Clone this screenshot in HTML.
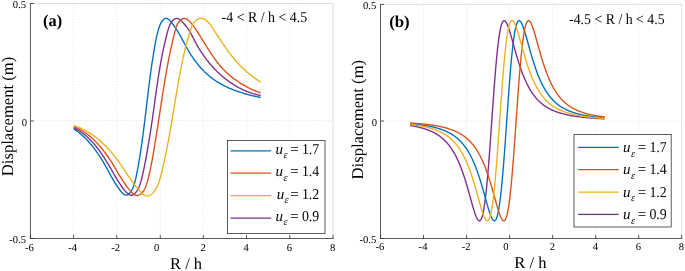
<!DOCTYPE html>
<html lang="en"><head><meta charset="utf-8"><title>Displacement vs R / h</title><style>
html,body{margin:0;padding:0;background:#fff}
svg{will-change:transform}
svg text{font-family:"Liberation Serif","Times New Roman",serif;fill:#000;text-rendering:geometricPrecision}
.g{stroke:#e0e0e0;stroke-width:1;stroke-dasharray:1 2.1;fill:none}
.g2{stroke:#d6d6d6;stroke-width:1;stroke-dasharray:1.3 0.3;fill:none}
.a{stroke:#262626;stroke-width:0.75;fill:none}
.c{fill:none;stroke-width:1.38;stroke-linejoin:round;stroke-linecap:butt}
.t{font-size:10.6px}
.lg{font-size:15px}
.pl{font-size:16.5px;font-weight:bold}
.ti{font-size:15px}
.xl{font-size:16.5px}
</style></head><body>
<svg width="685" height="271" viewBox="0 0 685 271" style="display:block">
<rect width="685" height="271" fill="#fff"/>
<line x1="73.55" y1="3.5" x2="73.55" y2="238.5" class="g"/>
<line x1="116.75" y1="3.5" x2="116.75" y2="238.5" class="g"/>
<line x1="160.30" y1="3.5" x2="160.30" y2="238.5" class="g"/>
<line x1="203.40" y1="3.5" x2="203.40" y2="238.5" class="g"/>
<line x1="246.50" y1="3.5" x2="246.50" y2="238.5" class="g"/>
<line x1="289.75" y1="3.5" x2="289.75" y2="238.5" class="g"/>
<line x1="333.00" y1="3.5" x2="333.00" y2="238.5" class="g2"/>
<line x1="30.45" y1="120.6" x2="333.0" y2="120.6" class="g"/>
<line x1="30.45" y1="3.5" x2="333.0" y2="3.5" class="g2"/>
<line x1="423.53" y1="4.4" x2="423.53" y2="238.5" class="g"/>
<line x1="466.56" y1="4.4" x2="466.56" y2="238.5" class="g"/>
<line x1="509.59" y1="4.4" x2="509.59" y2="238.5" class="g"/>
<line x1="552.62" y1="4.4" x2="552.62" y2="238.5" class="g"/>
<line x1="595.65" y1="4.4" x2="595.65" y2="238.5" class="g"/>
<line x1="638.68" y1="4.4" x2="638.68" y2="238.5" class="g"/>
<line x1="681.71" y1="4.4" x2="681.71" y2="238.5" class="g2"/>
<line x1="380.5" y1="121" x2="681.71" y2="121" class="g"/>
<line x1="380.5" y1="4.4" x2="681.71" y2="4.4" class="g2"/>
<path d="M73.70 128.80 L75.00 129.68 L76.28 130.59 L77.54 131.52 L78.77 132.47 L79.98 133.44 L81.16 134.44 L82.32 135.45 L83.46 136.49 L84.58 137.55 L85.68 138.62 L86.76 139.72 L87.81 140.83 L88.85 141.96 L89.87 143.11 L90.87 144.27 L91.85 145.45 L92.81 146.64 L93.76 147.85 L94.69 149.08 L95.60 150.31 L96.50 151.56 L97.39 152.82 L98.26 154.09 L99.11 155.38 L99.95 156.67 L100.78 157.98 L101.60 159.29 L102.40 160.61 L103.20 161.94 L103.98 163.28 L104.75 164.62 L105.52 165.97 L106.27 167.32 L107.02 168.68 L107.76 170.04 L108.50 171.40 L109.24 172.76 L109.98 174.11 L110.72 175.46 L111.46 176.80 L112.21 178.13 L112.97 179.46 L113.74 180.77 L114.52 182.07 L115.31 183.35 L116.13 184.62 L116.97 185.90 L117.86 187.19 L118.79 188.50 L119.78 189.84 L120.84 191.23 L121.97 192.57 L123.14 193.76 L124.35 194.67 L125.58 195.17 L126.82 195.15 L128.05 194.60 L129.23 193.64 L130.34 192.39 L131.33 190.97 L132.19 189.49 L132.91 188.00 L133.51 186.51 L134.02 185.02 L134.46 183.54 L134.86 182.04 L135.24 180.55 L135.60 179.06 L135.94 177.56 L136.27 176.07 L136.59 174.57 L136.89 173.07 L137.18 171.57 L137.47 170.07 L137.75 168.56 L138.03 167.05 L138.30 165.54 L138.57 164.03 L138.83 162.51 L139.09 160.99 L139.35 159.47 L139.60 157.96 L139.84 156.43 L140.09 154.91 L140.33 153.39 L140.57 151.86 L140.80 150.34 L141.03 148.81 L141.26 147.29 L141.48 145.76 L141.70 144.23 L141.92 142.70 L142.13 141.17 L142.34 139.64 L142.55 138.11 L142.76 136.58 L142.96 135.05 L143.16 133.52 L143.36 131.99 L143.56 130.46 L143.76 128.93 L143.95 127.39 L144.14 125.86 L144.33 124.33 L144.52 122.79 L144.71 121.26 L144.90 119.72 L145.09 118.19 L145.27 116.66 L145.45 115.12 L145.64 113.59 L145.82 112.05 L146.00 110.52 L146.18 108.98 L146.37 107.45 L146.55 105.91 L146.73 104.38 L146.91 102.85 L147.09 101.31 L147.27 99.78 L147.45 98.24 L147.64 96.71 L147.82 95.18 L148.00 93.64 L148.19 92.11 L148.38 90.58 L148.56 89.05 L148.75 87.52 L148.94 85.99 L149.13 84.45 L149.33 82.92 L149.52 81.40 L149.72 79.87 L149.91 78.34 L150.11 76.81 L150.32 75.28 L150.52 73.76 L150.73 72.23 L150.94 70.71 L151.15 69.18 L151.37 67.66 L151.58 66.14 L151.80 64.61 L152.03 63.09 L152.25 61.57 L152.49 60.05 L152.72 58.53 L152.96 57.02 L153.20 55.50 L153.44 53.99 L153.69 52.47 L153.94 50.96 L154.20 49.45 L154.46 47.94 L154.73 46.43 L155.00 44.92 L155.27 43.41 L155.55 41.90 L155.84 40.40 L156.14 38.89 L156.46 37.39 L156.79 35.88 L157.14 34.38 L157.51 32.87 L157.90 31.36 L158.33 29.85 L158.78 28.34 L159.28 26.83 L159.84 25.33 L160.51 23.85 L161.32 22.40 L162.28 21.00 L163.37 19.76 L164.55 18.83 L165.77 18.35 L166.99 18.43 L168.19 19.03 L169.36 20.02 L170.49 21.24 L171.58 22.57 L172.61 23.90 L173.59 25.22 L174.53 26.53 L175.42 27.83 L176.28 29.12 L177.10 30.42 L177.90 31.71 L178.68 33.01 L179.43 34.31 L180.17 35.61 L180.90 36.93 L181.62 38.25 L182.34 39.59 L183.07 40.95 L183.80 42.32 L184.53 43.70 L185.28 45.08 L186.03 46.47 L186.79 47.85 L187.57 49.23 L188.36 50.59 L189.16 51.94 L189.98 53.27 L190.81 54.60 L191.66 55.90 L192.52 57.20 L193.40 58.47 L194.29 59.73 L195.20 60.98 L196.12 62.21 L197.06 63.42 L198.02 64.61 L199.00 65.79 L199.99 66.94 L201.00 68.08 L202.03 69.20 L203.08 70.30 L204.14 71.38 L205.23 72.44 L206.34 73.48 L207.46 74.49 L208.61 75.49 L209.77 76.46 L210.96 77.41 L212.17 78.33 L213.40 79.24 L214.65 80.12 L215.93 80.97 L217.22 81.80 L218.53 82.61 L219.87 83.39 L221.21 84.15 L222.58 84.89 L223.96 85.61 L225.36 86.31 L226.77 86.98 L228.19 87.64 L229.62 88.27 L231.07 88.89 L232.52 89.48 L233.99 90.05 L235.46 90.61 L236.93 91.15 L238.42 91.67 L239.90 92.17 L241.40 92.65 L242.89 93.12 L244.39 93.57 L245.88 94.00 L247.38 94.42 L248.88 94.82 L250.37 95.21 L251.86 95.58 L253.35 95.93 L254.83 96.28 L256.31 96.60 L257.78 96.92 L259.24 97.22 L260.69 97.51" class="c" stroke="#0072BD"/>
<path d="M73.70 127.60 L75.09 128.34 L76.46 129.10 L77.79 129.90 L79.10 130.73 L80.38 131.58 L81.64 132.46 L82.87 133.37 L84.07 134.31 L85.25 135.27 L86.40 136.25 L87.53 137.26 L88.64 138.29 L89.73 139.34 L90.80 140.41 L91.84 141.50 L92.87 142.61 L93.87 143.74 L94.86 144.89 L95.83 146.06 L96.78 147.24 L97.72 148.43 L98.64 149.64 L99.54 150.87 L100.43 152.10 L101.31 153.35 L102.17 154.61 L103.02 155.88 L103.86 157.16 L104.69 158.44 L105.50 159.74 L106.31 161.04 L107.11 162.35 L107.89 163.66 L108.67 164.97 L109.45 166.30 L110.21 167.62 L110.98 168.94 L111.74 170.27 L112.49 171.59 L113.25 172.91 L114.01 174.23 L114.77 175.54 L115.54 176.84 L116.31 178.14 L117.09 179.43 L117.88 180.71 L118.68 181.98 L119.48 183.24 L120.31 184.49 L121.17 185.74 L122.06 186.99 L123.00 188.25 L124.01 189.53 L125.08 190.84 L126.22 192.13 L127.41 193.31 L128.64 194.28 L129.90 194.95 L131.18 195.23 L132.44 195.03 L133.68 194.40 L134.87 193.43 L135.98 192.21 L136.99 190.85 L137.87 189.42 L138.62 187.98 L139.26 186.53 L139.82 185.07 L140.30 183.61 L140.75 182.15 L141.15 180.69 L141.54 179.23 L141.90 177.77 L142.24 176.32 L142.58 174.85 L142.90 173.39 L143.22 171.92 L143.54 170.44 L143.85 168.95 L144.16 167.47 L144.47 165.98 L144.77 164.48 L145.06 162.99 L145.36 161.49 L145.64 159.99 L145.93 158.48 L146.21 156.98 L146.49 155.47 L146.76 153.97 L147.03 152.47 L147.30 150.96 L147.57 149.46 L147.83 147.95 L148.09 146.45 L148.34 144.94 L148.59 143.43 L148.84 141.93 L149.09 140.42 L149.33 138.91 L149.58 137.41 L149.81 135.90 L150.05 134.39 L150.29 132.89 L150.52 131.38 L150.75 129.87 L150.98 128.36 L151.20 126.86 L151.43 125.35 L151.65 123.84 L151.87 122.33 L152.09 120.83 L152.31 119.32 L152.53 117.81 L152.74 116.30 L152.96 114.80 L153.17 113.29 L153.39 111.78 L153.60 110.27 L153.81 108.77 L154.02 107.26 L154.23 105.75 L154.44 104.25 L154.65 102.74 L154.86 101.23 L155.07 99.73 L155.28 98.22 L155.49 96.72 L155.70 95.21 L155.91 93.71 L156.12 92.20 L156.33 90.70 L156.55 89.19 L156.76 87.69 L156.98 86.19 L157.20 84.68 L157.42 83.18 L157.65 81.68 L157.87 80.18 L158.10 78.68 L158.33 77.18 L158.57 75.67 L158.80 74.17 L159.04 72.67 L159.29 71.17 L159.54 69.68 L159.79 68.18 L160.04 66.68 L160.30 65.18 L160.57 63.68 L160.83 62.19 L161.11 60.69 L161.39 59.20 L161.67 57.70 L161.96 56.21 L162.25 54.71 L162.55 53.22 L162.85 51.73 L163.16 50.23 L163.48 48.74 L163.80 47.25 L164.13 45.76 L164.47 44.27 L164.81 42.78 L165.16 41.30 L165.52 39.81 L165.88 38.32 L166.26 36.83 L166.64 35.35 L167.02 33.86 L167.42 32.38 L167.82 30.90 L168.24 29.42 L168.70 27.94 L169.21 26.48 L169.82 25.05 L170.54 23.64 L171.40 22.26 L172.42 20.95 L173.56 19.80 L174.79 18.91 L176.06 18.39 L177.34 18.35 L178.60 18.79 L179.84 19.60 L181.05 20.67 L182.23 21.87 L183.36 23.09 L184.45 24.30 L185.48 25.49 L186.47 26.69 L187.41 27.90 L188.29 29.14 L189.12 30.40 L189.91 31.70 L190.66 33.01 L191.38 34.34 L192.08 35.69 L192.77 37.04 L193.46 38.40 L194.15 39.75 L194.84 41.11 L195.56 42.45 L196.29 43.79 L197.03 45.12 L197.79 46.45 L198.57 47.76 L199.36 49.07 L200.16 50.36 L200.98 51.65 L201.82 52.93 L202.67 54.19 L203.54 55.45 L204.42 56.69 L205.32 57.93 L206.23 59.15 L207.16 60.36 L208.10 61.55 L209.06 62.74 L210.03 63.90 L211.02 65.06 L212.02 66.20 L213.04 67.33 L214.07 68.44 L215.12 69.54 L216.18 70.62 L217.26 71.69 L218.35 72.74 L219.45 73.77 L220.57 74.79 L221.71 75.79 L222.85 76.77 L224.02 77.74 L225.20 78.68 L226.39 79.61 L227.59 80.51 L228.81 81.40 L230.05 82.27 L231.30 83.12 L232.56 83.94 L233.84 84.75 L235.13 85.54 L236.43 86.30 L237.75 87.04 L239.08 87.76 L240.43 88.45 L241.79 89.13 L243.17 89.77 L244.55 90.40 L245.96 91.00 L247.37 91.58 L248.80 92.13 L250.24 92.65 L251.70 93.15 L253.17 93.63 L254.65 94.07 L256.15 94.49 L257.66 94.89 L259.18 95.25 L260.72 95.59" class="c" stroke="#7E2F8E"/>
<path d="M73.70 126.60 L75.12 127.18 L76.52 127.80 L77.89 128.46 L79.24 129.15 L80.57 129.87 L81.88 130.63 L83.17 131.43 L84.44 132.25 L85.69 133.11 L86.92 133.99 L88.13 134.91 L89.32 135.85 L90.49 136.81 L91.64 137.81 L92.77 138.82 L93.88 139.86 L94.98 140.92 L96.05 142.01 L97.11 143.11 L98.15 144.23 L99.18 145.37 L100.19 146.53 L101.18 147.70 L102.15 148.88 L103.11 150.08 L104.05 151.30 L104.97 152.52 L105.88 153.75 L106.78 154.99 L107.66 156.24 L108.52 157.50 L109.37 158.77 L110.20 160.03 L111.03 161.31 L111.83 162.58 L112.63 163.86 L113.41 165.14 L114.17 166.41 L114.93 167.69 L115.68 168.96 L116.43 170.24 L117.17 171.52 L117.92 172.79 L118.67 174.07 L119.42 175.34 L120.19 176.61 L120.97 177.89 L121.77 179.16 L122.58 180.43 L123.42 181.70 L124.28 182.98 L125.17 184.25 L126.08 185.52 L127.03 186.79 L128.02 188.06 L129.05 189.33 L130.12 190.60 L131.23 191.85 L132.38 193.03 L133.57 194.05 L134.79 194.85 L136.03 195.35 L137.31 195.49 L138.60 195.22 L139.87 194.60 L141.11 193.69 L142.26 192.55 L143.32 191.27 L144.24 189.90 L145.01 188.48 L145.65 187.05 L146.20 185.59 L146.68 184.11 L147.12 182.63 L147.53 181.15 L147.93 179.68 L148.31 178.20 L148.68 176.73 L149.04 175.25 L149.38 173.78 L149.71 172.31 L150.04 170.84 L150.35 169.36 L150.65 167.89 L150.95 166.42 L151.24 164.94 L151.52 163.47 L151.80 162.00 L152.07 160.52 L152.34 159.04 L152.60 157.56 L152.87 156.08 L153.13 154.59 L153.38 153.11 L153.64 151.62 L153.89 150.13 L154.15 148.64 L154.40 147.15 L154.64 145.65 L154.89 144.16 L155.14 142.66 L155.38 141.16 L155.62 139.66 L155.86 138.16 L156.10 136.66 L156.34 135.16 L156.58 133.66 L156.81 132.15 L157.05 130.65 L157.28 129.15 L157.52 127.64 L157.75 126.14 L157.98 124.63 L158.21 123.13 L158.44 121.62 L158.67 120.12 L158.90 118.62 L159.13 117.11 L159.36 115.61 L159.59 114.11 L159.82 112.61 L160.04 111.11 L160.27 109.61 L160.50 108.11 L160.73 106.61 L160.96 105.11 L161.18 103.62 L161.41 102.13 L161.64 100.63 L161.87 99.14 L162.10 97.65 L162.34 96.16 L162.57 94.67 L162.80 93.18 L163.04 91.70 L163.27 90.21 L163.51 88.73 L163.75 87.24 L163.99 85.76 L164.23 84.27 L164.48 82.79 L164.72 81.31 L164.97 79.83 L165.22 78.35 L165.47 76.87 L165.73 75.38 L165.99 73.90 L166.25 72.42 L166.51 70.94 L166.78 69.46 L167.05 67.98 L167.32 66.50 L167.59 65.02 L167.87 63.54 L168.16 62.06 L168.44 60.58 L168.73 59.10 L169.02 57.62 L169.32 56.14 L169.62 54.65 L169.93 53.17 L170.24 51.69 L170.55 50.20 L170.87 48.72 L171.19 47.23 L171.52 45.75 L171.85 44.26 L172.19 42.78 L172.53 41.29 L172.88 39.80 L173.23 38.31 L173.59 36.82 L173.95 35.32 L174.32 33.83 L174.70 32.34 L175.08 30.84 L175.47 29.34 L175.90 27.86 L176.40 26.40 L176.99 24.96 L177.70 23.57 L178.57 22.23 L179.60 20.97 L180.76 19.87 L182.01 19.00 L183.32 18.46 L184.63 18.34 L185.92 18.66 L187.18 19.35 L188.40 20.31 L189.57 21.44 L190.68 22.65 L191.73 23.87 L192.72 25.10 L193.67 26.33 L194.58 27.56 L195.46 28.81 L196.31 30.06 L197.14 31.31 L197.96 32.58 L198.77 33.85 L199.58 35.12 L200.38 36.40 L201.18 37.69 L201.97 38.98 L202.77 40.27 L203.56 41.57 L204.35 42.86 L205.14 44.16 L205.94 45.45 L206.74 46.74 L207.54 48.03 L208.35 49.32 L209.16 50.60 L209.98 51.88 L210.81 53.15 L211.65 54.41 L212.49 55.66 L213.35 56.91 L214.22 58.15 L215.10 59.37 L216.00 60.59 L216.91 61.79 L217.84 62.98 L218.78 64.15 L219.74 65.31 L220.72 66.45 L221.72 67.58 L222.74 68.69 L223.78 69.78 L224.85 70.85 L225.93 71.91 L227.03 72.94 L228.15 73.96 L229.29 74.96 L230.44 75.93 L231.62 76.89 L232.80 77.84 L234.01 78.76 L235.23 79.66 L236.47 80.54 L237.72 81.40 L238.98 82.24 L240.26 83.07 L241.55 83.87 L242.85 84.65 L244.17 85.41 L245.50 86.15 L246.84 86.87 L248.18 87.57 L249.54 88.25 L250.91 88.91 L252.29 89.54 L253.67 90.16 L255.06 90.75 L256.46 91.32 L257.87 91.87 L259.28 92.40 L260.70 92.90" class="c" stroke="#D95319"/>
<path d="M73.70 125.60 L75.12 126.04 L76.52 126.52 L77.91 127.02 L79.28 127.57 L80.64 128.14 L81.99 128.75 L83.32 129.39 L84.63 130.06 L85.94 130.76 L87.22 131.48 L88.50 132.24 L89.76 133.02 L91.00 133.83 L92.23 134.66 L93.45 135.52 L94.65 136.40 L95.83 137.30 L97.01 138.23 L98.17 139.17 L99.31 140.14 L100.44 141.13 L101.56 142.13 L102.66 143.15 L103.75 144.19 L104.82 145.24 L105.88 146.31 L106.92 147.40 L107.95 148.49 L108.97 149.60 L109.97 150.73 L110.96 151.86 L111.94 153.00 L112.90 154.15 L113.84 155.31 L114.78 156.48 L115.69 157.65 L116.60 158.83 L117.49 160.01 L118.36 161.20 L119.22 162.39 L120.07 163.59 L120.91 164.78 L121.73 165.98 L122.53 167.17 L123.33 168.37 L124.12 169.57 L124.91 170.77 L125.69 171.97 L126.48 173.17 L127.27 174.37 L128.06 175.57 L128.86 176.77 L129.68 177.98 L130.51 179.18 L131.35 180.39 L132.21 181.60 L133.10 182.81 L134.01 184.02 L134.94 185.24 L135.91 186.45 L136.91 187.67 L137.94 188.89 L139.01 190.11 L140.12 191.34 L141.26 192.52 L142.44 193.63 L143.64 194.59 L144.86 195.36 L146.09 195.88 L147.33 196.11 L148.56 195.99 L149.79 195.52 L150.98 194.77 L152.14 193.78 L153.23 192.63 L154.25 191.36 L155.17 190.03 L156.00 188.68 L156.73 187.32 L157.39 185.95 L157.99 184.57 L158.53 183.18 L159.03 181.78 L159.50 180.38 L159.95 178.97 L160.36 177.55 L160.76 176.13 L161.13 174.70 L161.49 173.28 L161.84 171.85 L162.18 170.41 L162.52 168.98 L162.85 167.54 L163.18 166.11 L163.50 164.67 L163.82 163.23 L164.14 161.79 L164.45 160.35 L164.76 158.91 L165.06 157.46 L165.36 156.02 L165.66 154.58 L165.96 153.13 L166.25 151.69 L166.54 150.24 L166.83 148.79 L167.11 147.34 L167.39 145.89 L167.67 144.44 L167.95 142.99 L168.22 141.54 L168.49 140.09 L168.76 138.63 L169.03 137.18 L169.29 135.72 L169.55 134.27 L169.81 132.81 L170.07 131.35 L170.33 129.90 L170.58 128.44 L170.83 126.98 L171.08 125.52 L171.33 124.06 L171.58 122.60 L171.83 121.14 L172.07 119.68 L172.32 118.22 L172.56 116.76 L172.80 115.30 L173.05 113.83 L173.29 112.37 L173.53 110.91 L173.77 109.45 L174.01 107.98 L174.25 106.52 L174.49 105.06 L174.73 103.59 L174.97 102.13 L175.21 100.67 L175.45 99.21 L175.70 97.74 L175.94 96.28 L176.18 94.82 L176.43 93.36 L176.68 91.90 L176.92 90.43 L177.17 88.97 L177.43 87.51 L177.68 86.06 L177.93 84.60 L178.19 83.14 L178.45 81.68 L178.71 80.22 L178.97 78.77 L179.24 77.31 L179.51 75.86 L179.78 74.40 L180.06 72.95 L180.33 71.50 L180.62 70.05 L180.90 68.60 L181.19 67.15 L181.48 65.70 L181.78 64.26 L182.08 62.81 L182.38 61.37 L182.69 59.93 L183.00 58.48 L183.31 57.04 L183.64 55.61 L183.96 54.17 L184.29 52.73 L184.63 51.30 L184.97 49.87 L185.31 48.44 L185.66 47.01 L186.02 45.58 L186.38 44.16 L186.75 42.73 L187.12 41.31 L187.50 39.89 L187.89 38.48 L188.29 37.06 L188.69 35.64 L189.12 34.23 L189.56 32.81 L190.02 31.39 L190.50 29.97 L191.00 28.55 L191.54 27.13 L192.14 25.73 L192.82 24.37 L193.62 23.06 L194.56 21.83 L195.64 20.71 L196.83 19.75 L198.11 18.99 L199.45 18.48 L200.82 18.27 L202.19 18.39 L203.54 18.81 L204.87 19.48 L206.14 20.35 L207.34 21.37 L208.46 22.48 L209.49 23.66 L210.44 24.87 L211.32 26.10 L212.17 27.36 L212.98 28.61 L213.79 29.86 L214.60 31.10 L215.41 32.33 L216.21 33.56 L217.02 34.78 L217.82 36.00 L218.63 37.21 L219.44 38.43 L220.25 39.64 L221.07 40.86 L221.89 42.08 L222.71 43.30 L223.54 44.52 L224.37 45.74 L225.22 46.96 L226.06 48.17 L226.92 49.38 L227.79 50.59 L228.66 51.79 L229.54 52.98 L230.44 54.17 L231.34 55.34 L232.26 56.51 L233.19 57.66 L234.13 58.81 L235.09 59.94 L236.05 61.06 L237.03 62.17 L238.03 63.27 L239.03 64.35 L240.05 65.42 L241.08 66.48 L242.13 67.52 L243.19 68.55 L244.26 69.56 L245.35 70.56 L246.45 71.55 L247.56 72.52 L248.68 73.47 L249.82 74.41 L250.98 75.33 L252.14 76.24 L253.32 77.13 L254.52 78.00 L255.73 78.86 L256.95 79.69 L258.19 80.51 L259.44 81.32 L260.70 82.10" class="c" stroke="#EDB120"/>
<path d="M410.10 123.70 L410.59 123.75 L411.08 123.79 L411.56 123.83 L412.05 123.88 L412.54 123.93 L413.03 123.97 L413.52 124.02 L414.01 124.07 L414.49 124.12 L414.98 124.17 L415.47 124.22 L415.96 124.28 L416.45 124.33 L416.94 124.39 L417.42 124.44 L417.91 124.50 L418.40 124.56 L418.89 124.62 L419.38 124.68 L419.86 124.74 L420.35 124.80 L420.84 124.87 L421.33 124.94 L421.82 125.00 L422.31 125.07 L422.79 125.14 L423.28 125.21 L423.77 125.29 L424.26 125.36 L424.75 125.44 L425.23 125.52 L425.72 125.60 L426.21 125.68 L426.70 125.76 L427.19 125.85 L427.68 125.94 L428.16 126.03 L428.65 126.12 L429.14 126.21 L429.63 126.31 L430.12 126.40 L430.61 126.50 L431.09 126.61 L431.58 126.71 L432.07 126.82 L432.56 126.93 L433.05 127.04 L433.53 127.15 L434.02 127.27 L434.51 127.39 L435.00 127.51 L435.49 127.64 L435.98 127.77 L436.46 127.90 L436.95 128.04 L437.44 128.18 L437.93 128.32 L438.42 128.46 L438.91 128.61 L439.39 128.76 L439.88 128.92 L440.37 129.08 L440.86 129.25 L441.35 129.42 L441.83 129.59 L442.32 129.77 L442.81 129.95 L443.30 130.14 L443.79 130.33 L444.28 130.52 L444.76 130.73 L445.25 130.93 L445.74 131.15 L446.23 131.36 L446.72 131.59 L447.20 131.82 L447.69 132.05 L448.18 132.30 L448.67 132.55 L449.16 132.80 L449.65 133.07 L450.13 133.34 L450.62 133.61 L451.11 133.90 L451.60 134.19 L452.09 134.50 L452.58 134.81 L453.06 135.13 L453.55 135.45 L454.04 135.79 L454.53 136.14 L455.02 136.50 L455.50 136.86 L455.99 137.24 L456.48 137.63 L456.97 138.03 L457.46 138.45 L457.95 138.87 L458.43 139.31 L458.92 139.76 L459.41 140.22 L459.90 140.70 L460.39 141.19 L460.87 141.70 L461.36 142.22 L461.85 142.76 L462.34 143.31 L462.83 143.88 L463.32 144.47 L463.80 145.08 L464.29 145.70 L464.78 146.35 L465.27 147.01 L465.76 147.69 L466.25 148.40 L466.73 149.12 L467.22 149.87 L467.71 150.64 L468.20 151.44 L468.69 152.26 L469.17 153.10 L469.66 153.97 L470.15 154.86 L470.64 155.79 L471.13 156.74 L471.62 157.71 L472.10 158.72 L472.59 159.76 L473.08 160.82 L473.57 161.92 L474.06 163.05 L474.55 164.21 L475.03 165.40 L475.52 166.63 L476.01 167.89 L476.50 169.18 L476.99 170.51 L477.47 171.87 L477.96 173.26 L478.45 174.69 L478.94 176.15 L479.43 177.65 L479.92 179.18 L480.40 180.73 L480.89 182.32 L481.38 183.94 L481.87 185.59 L482.36 187.26 L482.84 188.95 L483.33 190.67 L483.82 192.40 L484.31 194.15 L484.80 195.90 L485.29 197.66 L485.77 199.43 L486.26 201.18 L486.75 202.92 L487.24 204.65 L487.73 206.34 L488.22 208.00 L488.70 209.62 L489.19 211.18 L489.68 212.67 L490.17 214.08 L490.66 215.40 L491.14 216.62 L491.63 217.71 L492.12 218.67 L492.61 219.47 L493.10 220.11 L493.59 220.56 L494.07 220.80 L494.56 220.82 L495.05 220.60 L495.54 220.12 L496.03 219.36 L496.52 218.30 L497.00 216.94 L497.49 215.25 L497.98 213.22 L498.47 210.84 L498.96 208.09 L499.44 204.98 L499.93 201.50 L500.42 197.65 L500.91 193.43 L501.40 188.85 L501.89 183.92 L502.37 178.65 L502.86 173.06 L503.35 167.18 L503.84 161.04 L504.33 154.66 L504.81 148.08 L505.30 141.33 L505.79 134.45 L506.28 127.50 L506.77 120.50 L507.26 113.50 L507.74 106.55 L508.23 99.68 L508.72 92.94 L509.21 86.37 L509.70 80.01 L510.19 73.88 L510.67 68.02 L511.16 62.46 L511.65 57.21 L512.14 52.31 L512.63 47.75 L513.11 43.56 L513.60 39.73 L514.09 36.28 L514.58 33.20 L515.07 30.48 L515.56 28.12 L516.04 26.12 L516.53 24.45 L517.02 23.11 L517.51 22.08 L518.00 21.34 L518.48 20.88 L518.97 20.68 L519.46 20.71 L519.95 20.97 L520.44 21.43 L520.93 22.08 L521.41 22.90 L521.90 23.86 L522.39 24.97 L522.88 26.19 L523.37 27.52 L523.86 28.94 L524.34 30.43 L524.83 32.00 L525.32 33.61 L525.81 35.28 L526.30 36.98 L526.78 38.70 L527.27 40.45 L527.76 42.20 L528.25 43.96 L528.74 45.72 L529.23 47.48 L529.71 49.23 L530.20 50.96 L530.69 52.67 L531.18 54.36 L531.67 56.03 L532.16 57.68 L532.64 59.29 L533.13 60.88 L533.62 62.44 L534.11 63.96 L534.60 65.45 L535.08 66.91 L535.57 68.34 L536.06 69.73 L536.55 71.09 L537.04 72.41 L537.53 73.70 L538.01 74.96 L538.50 76.18 L538.99 77.37 L539.48 78.53 L539.97 79.66 L540.45 80.76 L540.94 81.82 L541.43 82.85 L541.92 83.86 L542.41 84.83 L542.90 85.78 L543.38 86.70 L543.87 87.60 L544.36 88.46 L544.85 89.30 L545.34 90.12 L545.83 90.91 L546.31 91.68 L546.80 92.43 L547.29 93.15 L547.78 93.86 L548.27 94.54 L548.75 95.20 L549.24 95.84 L549.73 96.47 L550.22 97.07 L550.71 97.66 L551.20 98.23 L551.68 98.78 L552.17 99.32 L552.66 99.84 L553.15 100.34 L553.64 100.83 L554.13 101.31 L554.61 101.77 L555.10 102.22 L555.59 102.66 L556.08 103.08 L556.57 103.50 L557.05 103.90 L557.54 104.28 L558.03 104.66 L558.52 105.03 L559.01 105.39 L559.50 105.73 L559.98 106.07 L560.47 106.40 L560.96 106.72 L561.45 107.03 L561.94 107.33 L562.42 107.62 L562.91 107.91 L563.40 108.18 L563.89 108.45 L564.38 108.72 L564.87 108.97 L565.35 109.22 L565.84 109.46 L566.33 109.70 L566.82 109.93 L567.31 110.15 L567.80 110.37 L568.28 110.58 L568.77 110.79 L569.26 110.99 L569.75 111.19 L570.24 111.38 L570.72 111.57 L571.21 111.75 L571.70 111.92 L572.19 112.10 L572.68 112.27 L573.17 112.43 L573.65 112.59 L574.14 112.75 L574.63 112.90 L575.12 113.05 L575.61 113.19 L576.09 113.33 L576.58 113.47 L577.07 113.61 L577.56 113.74 L578.05 113.87 L578.54 113.99 L579.02 114.12 L579.51 114.24 L580.00 114.35 L580.49 114.47 L580.98 114.58 L581.47 114.69 L581.95 114.80 L582.44 114.90 L582.93 115.00 L583.42 115.10 L583.91 115.20 L584.39 115.30 L584.88 115.39 L585.37 115.48 L585.86 115.57 L586.35 115.66 L586.84 115.74 L587.32 115.83 L587.81 115.91 L588.30 115.99 L588.79 116.07 L589.28 116.14 L589.77 116.22 L590.25 116.29 L590.74 116.36 L591.23 116.43 L591.72 116.50 L592.21 116.57 L592.69 116.64 L593.18 116.70 L593.67 116.76 L594.16 116.83 L594.65 116.89 L595.14 116.95 L595.62 117.01 L596.11 117.06 L596.60 117.12 L597.09 117.17 L597.58 117.23 L598.06 117.28 L598.55 117.33 L599.04 117.38 L599.53 117.43 L600.02 117.48 L600.51 117.53 L600.99 117.58 L601.48 117.62 L601.97 117.67 L602.46 117.71 L602.95 117.76 L603.44 117.80 L603.92 117.84 L604.41 117.88 L604.90 117.92" class="c" stroke="#0072BD"/>
<path d="M410.10 125.49 L410.59 125.57 L411.08 125.65 L411.56 125.73 L412.05 125.82 L412.54 125.90 L413.03 125.99 L413.52 126.08 L414.01 126.18 L414.49 126.27 L414.98 126.37 L415.47 126.47 L415.96 126.57 L416.45 126.67 L416.94 126.78 L417.42 126.89 L417.91 127.00 L418.40 127.11 L418.89 127.23 L419.38 127.35 L419.86 127.47 L420.35 127.59 L420.84 127.72 L421.33 127.85 L421.82 127.99 L422.31 128.12 L422.79 128.26 L423.28 128.41 L423.77 128.56 L424.26 128.71 L424.75 128.86 L425.23 129.02 L425.72 129.18 L426.21 129.35 L426.70 129.52 L427.19 129.70 L427.68 129.88 L428.16 130.06 L428.65 130.25 L429.14 130.45 L429.63 130.65 L430.12 130.85 L430.61 131.06 L431.09 131.28 L431.58 131.50 L432.07 131.73 L432.56 131.96 L433.05 132.20 L433.53 132.45 L434.02 132.70 L434.51 132.97 L435.00 133.23 L435.49 133.51 L435.98 133.79 L436.46 134.08 L436.95 134.38 L437.44 134.69 L437.93 135.00 L438.42 135.33 L438.91 135.66 L439.39 136.01 L439.88 136.36 L440.37 136.72 L440.86 137.10 L441.35 137.48 L441.83 137.88 L442.32 138.29 L442.81 138.71 L443.30 139.14 L443.79 139.59 L444.28 140.05 L444.76 140.52 L445.25 141.01 L445.74 141.51 L446.23 142.02 L446.72 142.55 L447.20 143.10 L447.69 143.67 L448.18 144.25 L448.67 144.85 L449.16 145.47 L449.65 146.10 L450.13 146.76 L450.62 147.43 L451.11 148.13 L451.60 148.85 L452.09 149.59 L452.58 150.35 L453.06 151.13 L453.55 151.94 L454.04 152.78 L454.53 153.64 L455.02 154.52 L455.50 155.43 L455.99 156.37 L456.48 157.34 L456.97 158.34 L457.46 159.36 L457.95 160.42 L458.43 161.50 L458.92 162.62 L459.41 163.77 L459.90 164.95 L460.39 166.16 L460.87 167.41 L461.36 168.69 L461.85 170.00 L462.34 171.35 L462.83 172.73 L463.32 174.15 L463.80 175.60 L464.29 177.08 L464.78 178.59 L465.27 180.14 L465.76 181.72 L466.25 183.33 L466.73 184.96 L467.22 186.62 L467.71 188.31 L468.20 190.02 L468.69 191.74 L469.17 193.48 L469.66 195.24 L470.15 197.00 L470.64 198.76 L471.13 200.52 L471.62 202.27 L472.10 204.00 L472.59 205.71 L473.08 207.38 L473.57 209.01 L474.06 210.60 L474.55 212.11 L475.03 213.56 L475.52 214.91 L476.01 216.17 L476.50 217.31 L476.99 218.32 L477.47 219.19 L477.96 219.89 L478.45 220.41 L478.94 220.73 L479.43 220.84 L479.92 220.71 L480.40 220.33 L480.89 219.68 L481.38 218.74 L481.87 217.49 L482.36 215.93 L482.84 214.03 L483.33 211.78 L483.82 209.18 L484.31 206.21 L484.80 202.87 L485.29 199.15 L485.77 195.07 L486.26 190.63 L486.75 185.82 L487.24 180.68 L487.73 175.21 L488.22 169.44 L488.70 163.40 L489.19 157.10 L489.68 150.59 L490.17 143.90 L490.66 137.07 L491.14 130.14 L491.63 123.15 L492.12 116.14 L492.61 109.17 L493.10 102.27 L493.59 95.48 L494.07 88.84 L494.56 82.39 L495.05 76.17 L495.54 70.21 L496.03 64.53 L496.52 59.16 L497.00 54.12 L497.49 49.43 L497.98 45.10 L498.47 41.14 L498.96 37.54 L499.44 34.32 L499.93 31.46 L500.42 28.97 L500.91 26.84 L501.40 25.04 L501.89 23.58 L502.37 22.43 L502.86 21.59 L503.35 21.02 L503.84 20.72 L504.33 20.67 L504.81 20.85 L505.30 21.24 L505.79 21.81 L506.28 22.57 L506.77 23.48 L507.26 24.53 L507.74 25.71 L508.23 27.00 L508.72 28.39 L509.21 29.86 L509.70 31.40 L510.19 33.00 L510.67 34.64 L511.16 36.33 L511.65 38.05 L512.14 39.78 L512.63 41.54 L513.11 43.30 L513.60 45.06 L514.09 46.82 L514.58 48.57 L515.07 50.30 L515.56 52.02 L516.04 53.72 L516.53 55.40 L517.02 57.06 L517.51 58.68 L518.00 60.28 L518.48 61.85 L518.97 63.39 L519.46 64.89 L519.95 66.36 L520.44 67.80 L520.93 69.21 L521.41 70.58 L521.90 71.91 L522.39 73.22 L522.88 74.49 L523.37 75.72 L523.86 76.93 L524.34 78.10 L524.83 79.24 L525.32 80.34 L525.81 81.42 L526.30 82.47 L526.78 83.48 L527.27 84.47 L527.76 85.43 L528.25 86.36 L528.74 87.26 L529.23 88.14 L529.71 88.99 L530.20 89.81 L530.69 90.62 L531.18 91.39 L531.67 92.15 L532.16 92.88 L532.64 93.59 L533.13 94.28 L533.62 94.95 L534.11 95.60 L534.60 96.23 L535.08 96.84 L535.57 97.44 L536.06 98.01 L536.55 98.57 L537.04 99.11 L537.53 99.64 L538.01 100.15 L538.50 100.65 L538.99 101.13 L539.48 101.60 L539.97 102.05 L540.45 102.50 L540.94 102.92 L541.43 103.34 L541.92 103.75 L542.41 104.14 L542.90 104.52 L543.38 104.89 L543.87 105.25 L544.36 105.60 L544.85 105.94 L545.34 106.27 L545.83 106.60 L546.31 106.91 L546.80 107.21 L547.29 107.51 L547.78 107.80 L548.27 108.08 L548.75 108.35 L549.24 108.62 L549.73 108.88 L550.22 109.13 L550.71 109.37 L551.20 109.61 L551.68 109.84 L552.17 110.07 L552.66 110.29 L553.15 110.50 L553.64 110.71 L554.13 110.92 L554.61 111.11 L555.10 111.31 L555.59 111.50 L556.08 111.68 L556.57 111.86 L557.05 112.03 L557.54 112.20 L558.03 112.37 L558.52 112.53 L559.01 112.69 L559.50 112.84 L559.98 112.99 L560.47 113.14 L560.96 113.28 L561.45 113.42 L561.94 113.56 L562.42 113.69 L562.91 113.82 L563.40 113.95 L563.89 114.07 L564.38 114.19 L564.87 114.31 L565.35 114.43 L565.84 114.54 L566.33 114.65 L566.82 114.76 L567.31 114.86 L567.80 114.97 L568.28 115.07 L568.77 115.16 L569.26 115.26 L569.75 115.35 L570.24 115.45 L570.72 115.54 L571.21 115.62 L571.70 115.71 L572.19 115.79 L572.68 115.88 L573.17 115.96 L573.65 116.04 L574.14 116.11 L574.63 116.19 L575.12 116.26 L575.61 116.34 L576.09 116.41 L576.58 116.48 L577.07 116.54 L577.56 116.61 L578.05 116.68 L578.54 116.74 L579.02 116.80 L579.51 116.86 L580.00 116.92 L580.49 116.98 L580.98 117.04 L581.47 117.10 L581.95 117.15 L582.44 117.21 L582.93 117.26 L583.42 117.31 L583.91 117.36 L584.39 117.41 L584.88 117.46 L585.37 117.51 L585.86 117.56 L586.35 117.61 L586.84 117.65 L587.32 117.70 L587.81 117.74 L588.30 117.78 L588.79 117.83 L589.28 117.87 L589.77 117.91 L590.25 117.95 L590.74 117.99 L591.23 118.03 L591.72 118.06 L592.21 118.10 L592.69 118.14 L593.18 118.17 L593.67 118.21 L594.16 118.24 L594.65 118.28 L595.14 118.31 L595.62 118.34 L596.11 118.38 L596.60 118.41 L597.09 118.44 L597.58 118.47 L598.06 118.50 L598.55 118.53 L599.04 118.56 L599.53 118.59 L600.02 118.61 L600.51 118.64 L600.99 118.67 L601.48 118.70 L601.97 118.72 L602.46 118.75 L602.95 118.77 L603.44 118.80 L603.92 118.82 L604.41 118.85 L604.90 118.87" class="c" stroke="#7E2F8E"/>
<path d="M410.10 123.01 L410.59 123.04 L411.08 123.07 L411.56 123.11 L412.05 123.14 L412.54 123.17 L413.03 123.20 L413.52 123.24 L414.01 123.27 L414.49 123.31 L414.98 123.34 L415.47 123.38 L415.96 123.41 L416.45 123.45 L416.94 123.49 L417.42 123.53 L417.91 123.57 L418.40 123.61 L418.89 123.65 L419.38 123.69 L419.86 123.74 L420.35 123.78 L420.84 123.82 L421.33 123.87 L421.82 123.91 L422.31 123.96 L422.79 124.01 L423.28 124.06 L423.77 124.11 L424.26 124.16 L424.75 124.21 L425.23 124.26 L425.72 124.32 L426.21 124.37 L426.70 124.43 L427.19 124.48 L427.68 124.54 L428.16 124.60 L428.65 124.66 L429.14 124.72 L429.63 124.79 L430.12 124.85 L430.61 124.92 L431.09 124.99 L431.58 125.05 L432.07 125.12 L432.56 125.20 L433.05 125.27 L433.53 125.34 L434.02 125.42 L434.51 125.50 L435.00 125.58 L435.49 125.66 L435.98 125.74 L436.46 125.83 L436.95 125.91 L437.44 126.00 L437.93 126.09 L438.42 126.19 L438.91 126.28 L439.39 126.38 L439.88 126.48 L440.37 126.58 L440.86 126.68 L441.35 126.79 L441.83 126.90 L442.32 127.01 L442.81 127.12 L443.30 127.24 L443.79 127.36 L444.28 127.48 L444.76 127.61 L445.25 127.74 L445.74 127.87 L446.23 128.00 L446.72 128.14 L447.20 128.28 L447.69 128.43 L448.18 128.57 L448.67 128.73 L449.16 128.88 L449.65 129.04 L450.13 129.20 L450.62 129.37 L451.11 129.54 L451.60 129.72 L452.09 129.90 L452.58 130.09 L453.06 130.28 L453.55 130.47 L454.04 130.67 L454.53 130.88 L455.02 131.09 L455.50 131.31 L455.99 131.53 L456.48 131.76 L456.97 131.99 L457.46 132.23 L457.95 132.48 L458.43 132.74 L458.92 133.00 L459.41 133.27 L459.90 133.54 L460.39 133.83 L460.87 134.12 L461.36 134.42 L461.85 134.73 L462.34 135.04 L462.83 135.37 L463.32 135.71 L463.80 136.05 L464.29 136.41 L464.78 136.77 L465.27 137.15 L465.76 137.53 L466.25 137.93 L466.73 138.34 L467.22 138.76 L467.71 139.20 L468.20 139.64 L468.69 140.10 L469.17 140.58 L469.66 141.07 L470.15 141.57 L470.64 142.09 L471.13 142.62 L471.62 143.17 L472.10 143.74 L472.59 144.32 L473.08 144.92 L473.57 145.54 L474.06 146.18 L474.55 146.84 L475.03 147.52 L475.52 148.22 L476.01 148.94 L476.50 149.68 L476.99 150.45 L477.47 151.23 L477.96 152.05 L478.45 152.88 L478.94 153.75 L479.43 154.63 L479.92 155.55 L480.40 156.49 L480.89 157.46 L481.38 158.46 L481.87 159.49 L482.36 160.55 L482.84 161.64 L483.33 162.76 L483.82 163.91 L484.31 165.10 L484.80 166.32 L485.29 167.57 L485.77 168.85 L486.26 170.17 L486.75 171.52 L487.24 172.91 L487.73 174.33 L488.22 175.78 L488.70 177.27 L489.19 178.79 L489.68 180.34 L490.17 181.92 L490.66 183.53 L491.14 185.17 L491.63 186.83 L492.12 188.52 L492.61 190.23 L493.10 191.96 L493.59 193.70 L494.07 195.46 L494.56 197.22 L495.05 198.98 L495.54 200.74 L496.03 202.48 L496.52 204.21 L497.00 205.92 L497.49 207.59 L497.98 209.21 L498.47 210.79 L498.96 212.30 L499.44 213.73 L499.93 215.08 L500.42 216.32 L500.91 217.45 L501.40 218.44 L501.89 219.28 L502.37 219.96 L502.86 220.46 L503.35 220.76 L503.84 220.84 L504.33 220.68 L504.81 220.26 L505.30 219.58 L505.79 218.60 L506.28 217.32 L506.77 215.71 L507.26 213.77 L507.74 211.47 L508.23 208.82 L508.72 205.81 L509.21 202.42 L509.70 198.66 L510.19 194.54 L510.67 190.05 L511.16 185.20 L511.65 180.02 L512.14 174.51 L512.63 168.70 L513.11 162.62 L513.60 156.30 L514.09 149.76 L514.58 143.05 L515.07 136.21 L515.56 129.27 L516.04 122.27 L516.53 115.27 L517.02 108.30 L517.51 101.41 L518.00 94.64 L518.48 88.02 L518.97 81.60 L519.46 75.41 L519.95 69.48 L520.44 63.84 L520.93 58.51 L521.41 53.52 L521.90 48.87 L522.39 44.59 L522.88 40.67 L523.37 37.12 L523.86 33.94 L524.34 31.13 L524.83 28.69 L525.32 26.59 L525.81 24.84 L526.30 23.42 L526.78 22.31 L527.27 21.50 L527.76 20.97 L528.25 20.70 L528.74 20.68 L529.23 20.89 L529.71 21.30 L530.20 21.90 L530.69 22.67 L531.18 23.61 L531.67 24.68 L532.16 25.87 L532.64 27.17 L533.13 28.57 L533.62 30.05 L534.11 31.59 L534.60 33.20 L535.08 34.85 L535.57 36.54 L536.06 38.26 L536.55 40.00 L537.04 41.76 L537.53 43.52 L538.01 45.28 L538.50 47.04 L538.99 48.78 L539.48 50.52 L539.97 52.24 L540.45 53.94 L540.94 55.61 L541.43 57.26 L541.92 58.89 L542.41 60.48 L542.90 62.04 L543.38 63.58 L543.87 65.08 L544.36 66.54 L544.85 67.98 L545.34 69.38 L545.83 70.75 L546.31 72.08 L546.80 73.38 L547.29 74.64 L547.78 75.88 L548.27 77.08 L548.75 78.24 L549.24 79.38 L549.73 80.48 L550.22 81.55 L550.71 82.59 L551.20 83.61 L551.68 84.59 L552.17 85.54 L552.66 86.47 L553.15 87.37 L553.64 88.25 L554.13 89.09 L554.61 89.92 L555.10 90.71 L555.59 91.49 L556.08 92.24 L556.57 92.97 L557.05 93.68 L557.54 94.37 L558.03 95.03 L558.52 95.68 L559.01 96.31 L559.50 96.92 L559.98 97.51 L560.47 98.08 L560.96 98.64 L561.45 99.18 L561.94 99.71 L562.42 100.22 L562.91 100.71 L563.40 101.19 L563.89 101.66 L564.38 102.11 L564.87 102.55 L565.35 102.98 L565.84 103.39 L566.33 103.80 L566.82 104.19 L567.31 104.57 L567.80 104.94 L568.28 105.30 L568.77 105.65 L569.26 105.99 L569.75 106.32 L570.24 106.64 L570.72 106.95 L571.21 107.25 L571.70 107.55 L572.19 107.83 L572.68 108.11 L573.17 108.39 L573.65 108.65 L574.14 108.91 L574.63 109.16 L575.12 109.40 L575.61 109.64 L576.09 109.87 L576.58 110.10 L577.07 110.32 L577.56 110.53 L578.05 110.74 L578.54 110.94 L579.02 111.14 L579.51 111.33 L580.00 111.52 L580.49 111.70 L580.98 111.88 L581.47 112.05 L581.95 112.22 L582.44 112.39 L582.93 112.55 L583.42 112.71 L583.91 112.86 L584.39 113.01 L584.88 113.16 L585.37 113.30 L585.86 113.44 L586.35 113.57 L586.84 113.71 L587.32 113.84 L587.81 113.96 L588.30 114.09 L588.79 114.21 L589.28 114.33 L589.77 114.44 L590.25 114.55 L590.74 114.66 L591.23 114.77 L591.72 114.88 L592.21 114.98 L592.69 115.08 L593.18 115.18 L593.67 115.27 L594.16 115.37 L594.65 115.46 L595.14 115.55 L595.62 115.64 L596.11 115.72 L596.60 115.80 L597.09 115.89 L597.58 115.97 L598.06 116.05 L598.55 116.12 L599.04 116.20 L599.53 116.27 L600.02 116.34 L600.51 116.42 L600.99 116.48 L601.48 116.55 L601.97 116.62 L602.46 116.68 L602.95 116.75 L603.44 116.81 L603.92 116.87 L604.41 116.93 L604.90 116.99" class="c" stroke="#D95319"/>
<path d="M410.10 124.41 L410.59 124.47 L411.08 124.52 L411.56 124.58 L412.05 124.64 L412.54 124.71 L413.03 124.77 L413.52 124.83 L414.01 124.90 L414.49 124.96 L414.98 125.03 L415.47 125.10 L415.96 125.17 L416.45 125.25 L416.94 125.32 L417.42 125.40 L417.91 125.47 L418.40 125.55 L418.89 125.63 L419.38 125.72 L419.86 125.80 L420.35 125.89 L420.84 125.98 L421.33 126.07 L421.82 126.16 L422.31 126.25 L422.79 126.35 L423.28 126.45 L423.77 126.55 L424.26 126.65 L424.75 126.76 L425.23 126.87 L425.72 126.98 L426.21 127.09 L426.70 127.21 L427.19 127.32 L427.68 127.45 L428.16 127.57 L428.65 127.70 L429.14 127.83 L429.63 127.96 L430.12 128.10 L430.61 128.24 L431.09 128.38 L431.58 128.53 L432.07 128.68 L432.56 128.83 L433.05 128.99 L433.53 129.15 L434.02 129.32 L434.51 129.49 L435.00 129.67 L435.49 129.85 L435.98 130.03 L436.46 130.22 L436.95 130.41 L437.44 130.61 L437.93 130.82 L438.42 131.03 L438.91 131.24 L439.39 131.46 L439.88 131.69 L440.37 131.92 L440.86 132.16 L441.35 132.41 L441.83 132.66 L442.32 132.92 L442.81 133.18 L443.30 133.46 L443.79 133.74 L444.28 134.03 L444.76 134.33 L445.25 134.63 L445.74 134.95 L446.23 135.27 L446.72 135.60 L447.20 135.94 L447.69 136.30 L448.18 136.66 L448.67 137.03 L449.16 137.41 L449.65 137.81 L450.13 138.21 L450.62 138.63 L451.11 139.06 L451.60 139.51 L452.09 139.96 L452.58 140.43 L453.06 140.92 L453.55 141.41 L454.04 141.93 L454.53 142.46 L455.02 143.00 L455.50 143.56 L455.99 144.14 L456.48 144.74 L456.97 145.35 L457.46 145.98 L457.95 146.64 L458.43 147.31 L458.92 148.00 L459.41 148.72 L459.90 149.45 L460.39 150.21 L460.87 150.99 L461.36 151.79 L461.85 152.62 L462.34 153.48 L462.83 154.36 L463.32 155.27 L463.80 156.20 L464.29 157.16 L464.78 158.15 L465.27 159.17 L465.76 160.22 L466.25 161.30 L466.73 162.41 L467.22 163.56 L467.71 164.73 L468.20 165.94 L468.69 167.18 L469.17 168.45 L469.66 169.76 L470.15 171.10 L470.64 172.48 L471.13 173.89 L471.62 175.33 L472.10 176.81 L472.59 178.32 L473.08 179.86 L473.57 181.43 L474.06 183.03 L474.55 184.66 L475.03 186.32 L475.52 188.00 L476.01 189.71 L476.50 191.43 L476.99 193.17 L477.47 194.92 L477.96 196.68 L478.45 198.44 L478.94 200.20 L479.43 201.95 L479.92 203.69 L480.40 205.40 L480.89 207.08 L481.38 208.72 L481.87 210.31 L482.36 211.84 L482.84 213.30 L483.33 214.68 L483.82 215.95 L484.31 217.11 L484.80 218.15 L485.29 219.04 L485.77 219.77 L486.26 220.33 L486.75 220.69 L487.24 220.84 L487.73 220.75 L488.22 220.42 L488.70 219.82 L489.19 218.93 L489.68 217.74 L490.17 216.24 L490.66 214.40 L491.14 212.21 L491.63 209.67 L492.12 206.77 L492.61 203.50 L493.10 199.85 L493.59 195.84 L494.07 191.46 L494.56 186.72 L495.05 181.64 L495.54 176.23 L496.03 170.51 L496.52 164.51 L497.00 158.26 L497.49 151.78 L497.98 145.12 L498.47 138.31 L498.96 131.40 L499.44 124.42 L499.93 117.41 L500.42 110.43 L500.91 103.51 L501.40 96.70 L501.89 90.03 L502.37 83.54 L502.86 77.28 L503.35 71.27 L503.84 65.54 L504.33 60.11 L504.81 55.01 L505.30 50.26 L505.79 45.86 L506.28 41.83 L506.77 38.17 L507.26 34.88 L507.74 31.95 L508.23 29.40 L508.72 27.20 L509.21 25.34 L509.70 23.82 L510.19 22.62 L510.67 21.72 L511.16 21.10 L511.65 20.76 L512.14 20.66 L512.63 20.80 L513.11 21.15 L513.60 21.70 L514.09 22.42 L514.58 23.31 L515.07 24.33 L515.56 25.49 L516.04 26.76 L516.53 28.13 L517.02 29.59 L517.51 31.11 L518.00 32.70 L518.48 34.34 L518.97 36.02 L519.46 37.73 L519.95 39.47 L520.44 41.22 L520.93 42.98 L521.41 44.74 L521.90 46.50 L522.39 48.25 L522.88 49.99 L523.37 51.71 L523.86 53.42 L524.34 55.10 L524.83 56.76 L525.32 58.39 L525.81 59.99 L526.30 61.57 L526.78 63.11 L527.27 64.62 L527.76 66.10 L528.25 67.54 L528.74 68.95 L529.23 70.33 L529.71 71.68 L530.20 72.98 L530.69 74.26 L531.18 75.50 L531.67 76.71 L532.16 77.89 L532.64 79.03 L533.13 80.15 L533.62 81.23 L534.11 82.28 L534.60 83.30 L535.08 84.29 L535.57 85.26 L536.06 86.19 L536.55 87.10 L537.04 87.98 L537.53 88.84 L538.01 89.67 L538.50 90.47 L538.99 91.25 L539.48 92.01 L539.97 92.75 L540.45 93.47 L540.94 94.16 L541.43 94.83 L541.92 95.48 L542.41 96.12 L542.90 96.73 L543.38 97.33 L543.87 97.91 L544.36 98.47 L544.85 99.02 L545.34 99.55 L545.83 100.06 L546.31 100.56 L546.80 101.05 L547.29 101.52 L547.78 101.97 L548.27 102.42 L548.75 102.85 L549.24 103.27 L549.73 103.67 L550.22 104.07 L550.71 104.45 L551.20 104.82 L551.68 105.19 L552.17 105.54 L552.66 105.88 L553.15 106.22 L553.64 106.54 L554.13 106.85 L554.61 107.16 L555.10 107.46 L555.59 107.75 L556.08 108.03 L556.57 108.30 L557.05 108.57 L557.54 108.83 L558.03 109.08 L558.52 109.33 L559.01 109.57 L559.50 109.80 L559.98 110.03 L560.47 110.25 L560.96 110.46 L561.45 110.67 L561.94 110.88 L562.42 111.08 L562.91 111.27 L563.40 111.46 L563.89 111.65 L564.38 111.83 L564.87 112.00 L565.35 112.17 L565.84 112.34 L566.33 112.50 L566.82 112.66 L567.31 112.81 L567.80 112.96 L568.28 113.11 L568.77 113.26 L569.26 113.40 L569.75 113.53 L570.24 113.67 L570.72 113.80 L571.21 113.92 L571.70 114.05 L572.19 114.17 L572.68 114.29 L573.17 114.41 L573.65 114.52 L574.14 114.63 L574.63 114.74 L575.12 114.84 L575.61 114.95 L576.09 115.05 L576.58 115.15 L577.07 115.24 L577.56 115.34 L578.05 115.43 L578.54 115.52 L579.02 115.61 L579.51 115.69 L580.00 115.78 L580.49 115.86 L580.98 115.94 L581.47 116.02 L581.95 116.10 L582.44 116.18 L582.93 116.25 L583.42 116.32 L583.91 116.39 L584.39 116.46 L584.88 116.53 L585.37 116.60 L585.86 116.66 L586.35 116.73 L586.84 116.79 L587.32 116.85 L587.81 116.91 L588.30 116.97 L588.79 117.03 L589.28 117.09 L589.77 117.14 L590.25 117.20 L590.74 117.25 L591.23 117.30 L591.72 117.36 L592.21 117.41 L592.69 117.46 L593.18 117.50 L593.67 117.55 L594.16 117.60 L594.65 117.64 L595.14 117.69 L595.62 117.73 L596.11 117.78 L596.60 117.82 L597.09 117.86 L597.58 117.90 L598.06 117.94 L598.55 117.98 L599.04 118.02 L599.53 118.06 L600.02 118.09 L600.51 118.13 L600.99 118.17 L601.48 118.20 L601.97 118.24 L602.46 118.27 L602.95 118.31 L603.44 118.34 L603.92 118.37 L604.41 118.40 L604.90 118.43" class="c" stroke="#EDB120"/>
<path d="M30.45 3.1 V238.5 H333.4" class="a"/>
<line x1="30.45" y1="238.5" x2="30.45" y2="235.0" class="a"/>
<line x1="73.55" y1="238.5" x2="73.55" y2="235.0" class="a"/>
<line x1="116.75" y1="238.5" x2="116.75" y2="235.0" class="a"/>
<line x1="160.30" y1="238.5" x2="160.30" y2="235.0" class="a"/>
<line x1="203.40" y1="238.5" x2="203.40" y2="235.0" class="a"/>
<line x1="246.50" y1="238.5" x2="246.50" y2="235.0" class="a"/>
<line x1="289.75" y1="238.5" x2="289.75" y2="235.0" class="a"/>
<line x1="333.00" y1="238.5" x2="333.00" y2="235.0" class="a"/>
<line x1="30.45" y1="3.5" x2="33.95" y2="3.5" class="a"/>
<line x1="30.45" y1="121" x2="33.95" y2="121" class="a"/>
<line x1="30.45" y1="238.5" x2="33.95" y2="238.5" class="a"/>
<path d="M380.5 4.0 V238.5 H682.11" class="a"/>
<line x1="380.50" y1="238.5" x2="380.50" y2="235.0" class="a"/>
<line x1="423.53" y1="238.5" x2="423.53" y2="235.0" class="a"/>
<line x1="466.56" y1="238.5" x2="466.56" y2="235.0" class="a"/>
<line x1="509.59" y1="238.5" x2="509.59" y2="235.0" class="a"/>
<line x1="552.62" y1="238.5" x2="552.62" y2="235.0" class="a"/>
<line x1="595.65" y1="238.5" x2="595.65" y2="235.0" class="a"/>
<line x1="638.68" y1="238.5" x2="638.68" y2="235.0" class="a"/>
<line x1="681.71" y1="238.5" x2="681.71" y2="235.0" class="a"/>
<line x1="380.5" y1="4.4" x2="384.0" y2="4.4" class="a"/>
<line x1="380.5" y1="121" x2="384.0" y2="121" class="a"/>
<line x1="380.5" y1="238.5" x2="384.0" y2="238.5" class="a"/>
<rect x="227.5" y="140.5" width="97.5" height="93.1" fill="#fff" stroke="#404040" stroke-width="0.85"/>
<line x1="230.50" y1="150.85" x2="271.20" y2="150.85" stroke="#0072BD" stroke-width="1.3"/>
<text y="153.9" class="lg"><tspan x="275.5" font-style="italic">u</tspan><tspan x="283.4" dy="4.5" font-style="italic" style="font-size:10.5px">ε</tspan> <tspan x="290.3" dy="-4.5">=</tspan> <tspan x="301.9" textLength="17.3" lengthAdjust="spacingAndGlyphs">1.7</tspan></text>
<line x1="230.50" y1="173.2" x2="271.20" y2="173.2" stroke="#D95319" stroke-width="1.3"/>
<text y="176.3" class="lg"><tspan x="275.5" font-style="italic">u</tspan><tspan x="283.4" dy="4.5" font-style="italic" style="font-size:10.5px">ε</tspan> <tspan x="290.3" dy="-4.5">=</tspan> <tspan x="301.9" textLength="17.3" lengthAdjust="spacingAndGlyphs">1.4</tspan></text>
<line x1="230.50" y1="195.7" x2="271.20" y2="195.7" stroke="#EDB120" stroke-width="1.3"/>
<text y="198.7" class="lg"><tspan x="276.7" font-style="italic">u</tspan><tspan x="284.6" dy="4.5" font-style="italic" style="font-size:10.5px">ε</tspan> <tspan x="290.3" dy="-4.5">=</tspan> <tspan x="301.9" textLength="17.3" lengthAdjust="spacingAndGlyphs">1.2</tspan></text>
<line x1="230.50" y1="218.1" x2="271.20" y2="218.1" stroke="#7E2F8E" stroke-width="1.3"/>
<text y="220.9" class="lg"><tspan x="275.5" font-style="italic">u</tspan><tspan x="283.4" dy="4.5" font-style="italic" style="font-size:10.5px">ε</tspan> <tspan x="290.3" dy="-4.5">=</tspan> <tspan x="301.9" textLength="17.3" lengthAdjust="spacingAndGlyphs">0.9</tspan></text>
<rect x="574.0" y="134.5" width="97.20000000000005" height="92.5" fill="#fff" stroke="#404040" stroke-width="0.85"/>
<line x1="578.00" y1="147.3" x2="618.70" y2="147.3" stroke="#0072BD" stroke-width="1.3"/>
<text y="152.1" class="lg"><tspan x="623.0" font-style="italic">u</tspan><tspan x="630.9" dy="4.5" font-style="italic" style="font-size:10.5px">ε</tspan> <tspan x="637.8" dy="-4.5">=</tspan> <tspan x="649.4" textLength="17.3" lengthAdjust="spacingAndGlyphs">1.7</tspan></text>
<line x1="578.00" y1="169.7" x2="618.70" y2="169.7" stroke="#D95319" stroke-width="1.3"/>
<text y="174.4" class="lg"><tspan x="623.0" font-style="italic">u</tspan><tspan x="630.9" dy="4.5" font-style="italic" style="font-size:10.5px">ε</tspan> <tspan x="637.8" dy="-4.5">=</tspan> <tspan x="649.4" textLength="17.3" lengthAdjust="spacingAndGlyphs">1.4</tspan></text>
<line x1="578.00" y1="192.05" x2="618.70" y2="192.05" stroke="#EDB120" stroke-width="1.3"/>
<text y="196.8" class="lg"><tspan x="623.0" font-style="italic">u</tspan><tspan x="630.9" dy="4.5" font-style="italic" style="font-size:10.5px">ε</tspan> <tspan x="637.8" dy="-4.5">=</tspan> <tspan x="649.4" textLength="17.3" lengthAdjust="spacingAndGlyphs">1.2</tspan></text>
<line x1="578.00" y1="214.4" x2="618.70" y2="214.4" stroke="#7E2F8E" stroke-width="1.3"/>
<text y="219.2" class="lg"><tspan x="623.0" font-style="italic">u</tspan><tspan x="630.9" dy="4.5" font-style="italic" style="font-size:10.5px">ε</tspan> <tspan x="637.8" dy="-4.5">=</tspan> <tspan x="649.4" textLength="17.3" lengthAdjust="spacingAndGlyphs">0.9</tspan></text>
<text x="29.45" y="250.5" class="t" text-anchor="middle">-6</text>
<text x="72.55" y="250.5" class="t" text-anchor="middle">-4</text>
<text x="115.75" y="250.5" class="t" text-anchor="middle">-2</text>
<text x="156.70" y="250.5" class="t" text-anchor="middle">0</text>
<text x="203.10" y="250.5" class="t" text-anchor="middle">2</text>
<text x="246.20" y="250.5" class="t" text-anchor="middle">4</text>
<text x="289.45" y="250.5" class="t" text-anchor="middle">6</text>
<text x="332.70" y="250.5" class="t" text-anchor="middle">8</text>
<text x="26.1" y="8.2" class="t" text-anchor="end">0.5</text>
<text x="27.1" y="125.7" class="t" text-anchor="end">0</text>
<text x="26.1" y="243.0" class="t" text-anchor="end">-0.5</text>
<text x="380.00" y="249.9" class="t" text-anchor="middle">-6</text>
<text x="423.03" y="249.9" class="t" text-anchor="middle">-4</text>
<text x="466.06" y="249.9" class="t" text-anchor="middle">-2</text>
<text x="505.99" y="249.9" class="t" text-anchor="middle">0</text>
<text x="552.32" y="249.9" class="t" text-anchor="middle">2</text>
<text x="595.35" y="249.9" class="t" text-anchor="middle">4</text>
<text x="638.38" y="249.9" class="t" text-anchor="middle">6</text>
<text x="681.41" y="249.9" class="t" text-anchor="middle">8</text>
<text x="376.2" y="9.3" class="t" text-anchor="end">0.5</text>
<text x="377.1" y="125.7" class="t" text-anchor="end">0</text>
<text x="376.2" y="243.0" class="t" text-anchor="end">-0.5</text>
<text x="43.1" y="26.2" class="pl" textLength="19" lengthAdjust="spacingAndGlyphs">(a)</text>
<text x="389.2" y="26.6" class="pl" textLength="20.5" lengthAdjust="spacingAndGlyphs">(b)</text>
<text x="221.6" y="21.8" class="ti" textLength="85.6" lengthAdjust="spacingAndGlyphs">-4 &lt; R / h &lt; 4.5</text>
<text x="569.1" y="24.1" class="ti" textLength="95.5" lengthAdjust="spacingAndGlyphs">-4.5 &lt; R / h &lt; 4.5</text>
<text x="170.0" y="269.4" class="xl">R / h</text>
<text x="514.3" y="268.4" class="xl">R / h</text>
<text transform="translate(12.9 176.2) rotate(-90)" class="xl" textLength="119.5" lengthAdjust="spacingAndGlyphs">Displacement (m)</text>
<text transform="translate(363.0 179.4) rotate(-90)" class="xl" textLength="119.5" lengthAdjust="spacingAndGlyphs">Displacement (m)</text>
</svg>
</body></html>
